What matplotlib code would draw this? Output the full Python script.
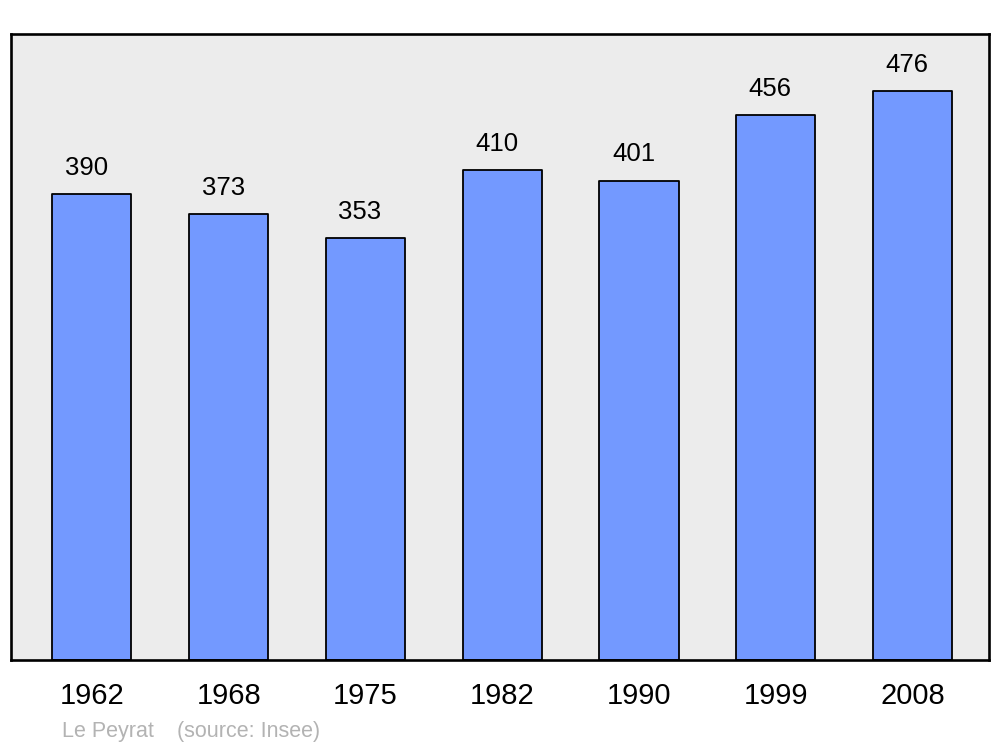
import matplotlib.pyplot as plt

years = ['1962', '1968', '1975', '1982', '1990', '1999', '2008']
population = [390, 373, 353, 410, 401, 456, 476]
commune = 'Le Peyrat'
source = '(source: Insee)'

plt.rcParams['font.family'] = ['Liberation Sans', 'DejaVu Sans']

fig = plt.figure(figsize=(10, 7.47), dpi=100)
ax = fig.add_axes([0.011, 1 - 660 / 747, 0.978, 626 / 747])
ax.set_facecolor('#ececec')

x = list(range(len(years)))
bars = ax.bar(x, population, width=0.578, color='#7399ff',
              edgecolor='black', linewidth=1.3, zorder=2)
for b in bars:
    b.set_joinstyle('round')

for xi, v in zip(x, population):
    ax.annotate(str(v), (xi, v), xytext=(-4, 10.5), textcoords='offset points',
                ha='center', va='bottom', fontsize=18.5)

ax.set_xlim(-0.592, 6.559)
ax.set_ylim(0, 524)
ax.set_xticks(x)
ax.set_xticklabels(years, fontsize=21)
ax.tick_params(axis='x', length=0, pad=16)
ax.set_yticks([])

for s in ax.spines.values():
    s.set_linewidth(1.9)
    s.set_joinstyle('round')

fig.text(0.062, 1 - 731.5 / 747, commune, fontsize=15.5, color='#b3b3b3', va='center')
fig.text(0.177, 1 - 731.5 / 747, source, fontsize=15.5, color='#b3b3b3', va='center')

fig.savefig('out.png', dpi=100)
